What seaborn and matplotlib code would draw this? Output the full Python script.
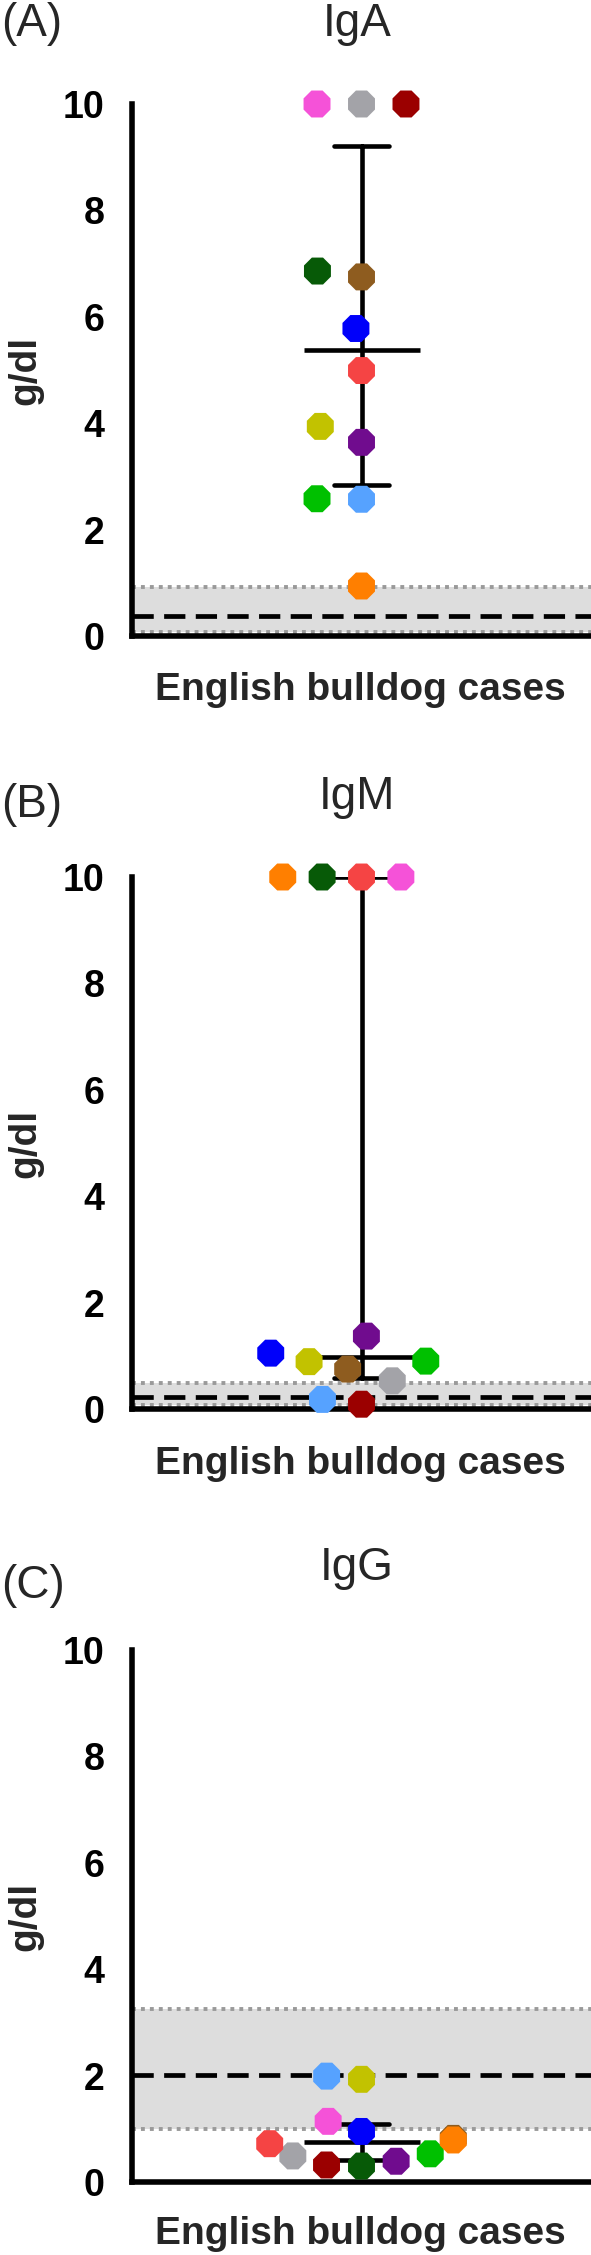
import numpy as np
import pandas as pd
import seaborn as sns
import matplotlib.pyplot as plt

# one colour per dog, same dog keeps its colour in every panel
dogs = ["D1", "D2", "D3", "D4", "D5", "D6", "D7", "D8", "D9", "D10", "D11", "D12"]
dog_colors = ["#9b0000", "#a3a3a8", "#f552d8", "#8e5c1f", "#075a07", "#0000fa",
              "#f54444", "#c2c200", "#700c8e", "#00c000", "#56a2ff", "#ff7f00"]

iga = [10, 10, 10, 6.75, 6.86, 5.78, 4.99, 3.94, 3.64, 2.58, 2.57, 0.94]
igm = [0.09, 0.53, 10, 0.75, 10, 1.05, 10, 0.89, 1.37, 0.90, 0.18, 10]
igg = [0.32, 0.49, 1.14, 0.82, 0.30, 0.95, 0.72, 1.93, 0.39, 0.53, 1.99, 0.79]

panel_titles = ["IgA", "IgM", "IgG"]
panel_letters = ["(A)", "(B)", "(C)"]
ref_low = [0.07, 0.07, 1.0]
ref_high = [0.93, 0.49, 3.25]
ref_mean = [0.38, 0.23, 2.02]

W, H = 591, 2255


def fy(px):
    return 1 - px / H


def iqr(v):
    # Prism style quartiles
    return tuple(np.percentile(v, [25, 75], method="weibull"))


sns.set_style("white")
plt.rcParams["font.family"] = ["Liberation Sans", "DejaVu Sans"]

fig = plt.figure(figsize=(W / 100, H / 100), dpi=100)
palette = dict(zip(dogs, dog_colors))

ax_tops = [104, 877, 1650]
title_base = [36, 809, 1580]
letter_base = [36, 817, 1598]
xlabel_base = [700, 1474, 2244]
spread = [9.5, 6.0, 3.0]  # swarm spacing per panel

for i, vals in enumerate([iga, igm, igg]):
    top = ax_tops[i]
    ax = fig.add_axes([132 / W, fy(top + 532), 459 / W, 532 / H])
    df = pd.DataFrame({"dog": dogs, "value": vals})

    ax.axhspan(ref_low[i], ref_high[i], color="#dddddd", lw=0, zorder=0.5)
    for yy in (ref_low[i], ref_high[i]):
        ax.axhline(yy, color="#9a9a9a", lw=2.8, ls=(0, (1, 1.3)), zorder=0.8)
    ax.axhline(ref_mean[i], color="black", lw=3.4, ls=(0, (4.5, 2.2)), zorder=1)

    sns.pointplot(data=df, y="value", estimator="median", errorbar=iqr,
                  capsize=0.24, color="black", marker="_", markersize=83,
                  markeredgewidth=3.3, linestyle="none", linewidth=3.3, ax=ax)
    sns.swarmplot(data=df, y="value", hue="dog", palette=palette, size=21,
                  marker="8", edgecolor="none", linewidth=spread[i],
                  legend=False, clip_on=False, zorder=3, ax=ax)

    ax.set_xlim(-1, 1)
    ax.set_ylim(0, 10)
    ax.set_yticks([0, 2, 4, 6, 8, 10])
    ax.set_xticks([])
    ax.set_xlabel("")
    ax.set_ylabel("")
    sns.despine(ax=ax)
    for s in ("left", "bottom"):
        ax.spines[s].set_linewidth(4.0)
        ax.spines[s].set_color("black")
    ax.tick_params(axis="y", length=15, width=4.0, pad=5, labelsize=27, colors="black")
    for lab in ax.get_yticklabels():
        lab.set_fontweight("bold")

    fig.text(0.002, fy(letter_base[i]), panel_letters[i], fontsize=33, va="baseline", ha="left")
    fig.text(357 / W, fy(title_base[i]), panel_titles[i], fontsize=33, va="baseline", ha="center")
    fig.text(25 / W, fy(top + 266), "g/dl", fontsize=28, fontweight="bold",
             rotation=90, va="center", ha="center")
    fig.text(360 / W, fy(xlabel_base[i]), "English bulldog cases", fontsize=28,
             fontweight="bold", va="baseline", ha="center")

fig.savefig("out.png", dpi=100)
